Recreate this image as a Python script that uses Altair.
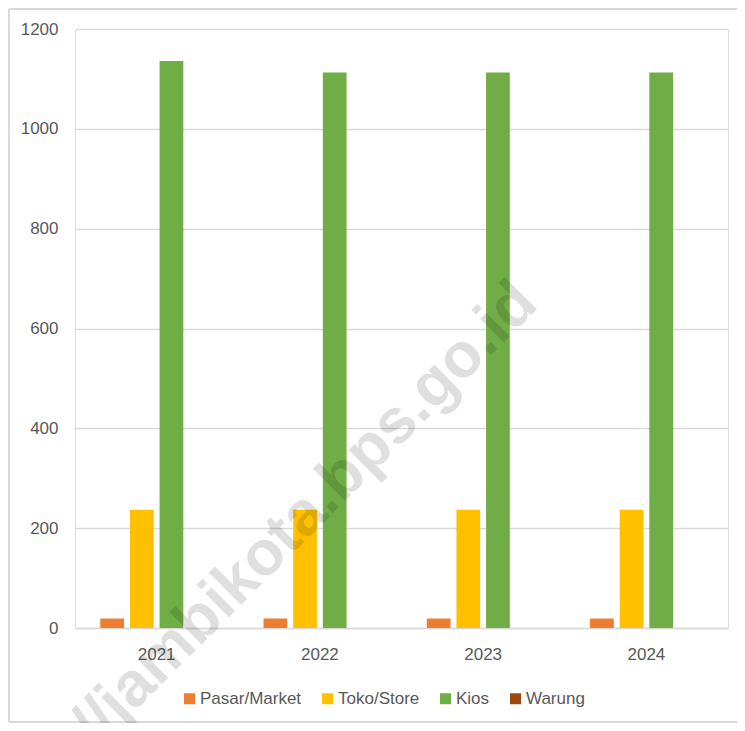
import altair as alt
import pandas as pd

years = ["2021", "2022", "2023", "2024"]
series = ["Pasar/Market", "Toko/Store", "Kios", "Warung"]
pasar = [19, 19, 19, 19]
toko = [237, 237, 237, 237]
kios = [1136, 1113, 1113, 1113]
warung = [0, 0, 0, 0]
colors = ["#ED7D31", "#FFC000", "#70AD47", "#9E480E"]
y_ticks = [0, 200, 400, 600, 800, 1000, 1200]
watermark = "//jambikota.bps.go.id"

rows = []
for name, vals in zip(series, [pasar, toko, kios, warung]):
    for yr, v in zip(years, vals):
        rows.append({"Tahun": yr, "Jenis": name, "Jumlah": v})
df = pd.DataFrame(rows)

W, H = 653, 599
FONT = "Liberation Sans"
GRAY = "#595959"
GRID = "#d9d9d9"

bars = alt.Chart(df).mark_bar().encode(
    x=alt.X("Tahun:N", sort=years,
            scale=alt.Scale(paddingInner=0.31, paddingOuter=0.155),
            axis=alt.Axis(title=None, labelAngle=0, ticks=False,
                          domainColor=GRID, domainWidth=1.5,
                          labelColor=GRAY, labelFont=FONT, labelFontSize=17,
                          labelPadding=18)),
    xOffset=alt.XOffset("Jenis:N", sort=series,
                        scale=alt.Scale(paddingInner=0.2, paddingOuter=0)),
    y=alt.Y("Jumlah:Q", scale=alt.Scale(domain=[0, 1200], nice=False),
            axis=alt.Axis(title=None, values=y_ticks, format="d", ticks=False, domain=False,
                          gridColor=GRID, gridWidth=1.5,
                          labelColor=GRAY, labelFont=FONT, labelFontSize=17,
                          labelPadding=17)),
    color=alt.Color("Jenis:N", sort=series,
                    scale=alt.Scale(domain=series, range=colors),
                    legend=alt.Legend(title=None, orient="none", direction="horizontal",
                                      legendX=106, legendY=661,
                                      symbolType="square", symbolSize=121,
                                      symbolStrokeWidth=0,
                                      labelColor=GRAY, labelFont=FONT,
                                      labelFontSize=17, labelOffset=2,
                                      columnPadding=17)),
)

wm = alt.Chart(pd.DataFrame({"t": [watermark]})).mark_text(
    font=FONT, fontWeight="bold", fontSize=63, angle=315,
    align="left", baseline="alphabetic", color="#000000", opacity=0.12,
).encode(text="t:N", x=alt.value(22), y=alt.value(720))

one = pd.DataFrame({"f": [0]})
left_edge = alt.Chart(one).mark_rule(color=GRID, strokeWidth=2, clip=False).encode(
    x=alt.value(-66), y=alt.value(-20), y2=alt.value(H + 94))
top_edge = alt.Chart(one).mark_rule(color=GRID, strokeWidth=2, clip=False).encode(
    x=alt.value(-66), x2=alt.value(W + 9), y=alt.value(-20))
bottom_edge = alt.Chart(one).mark_rule(color=GRID, strokeWidth=2, clip=False).encode(
    x=alt.value(-66), x2=alt.value(W + 9), y=alt.value(H + 94))

chart = alt.layer(left_edge, top_edge, bottom_edge, bars, wm).properties(
    width=W, height=H,
    autosize=alt.AutoSizeParams(type="none"),
    padding={"left": 67, "top": 21, "right": 9, "bottom": 95},
).configure_view(stroke=None).configure(background="white")

chart.save("out.html", embed_options={"renderer": "svg", "actions": False})
